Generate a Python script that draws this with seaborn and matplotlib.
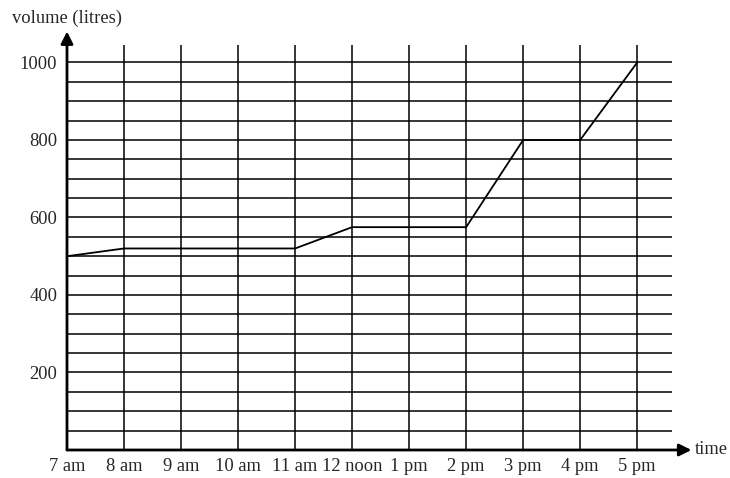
import matplotlib
matplotlib.use("Agg")
import matplotlib.pyplot as plt
import seaborn as sns
import pandas as pd
import numpy as np

hours = [0, 1, 4, 5, 7, 8, 9, 10]
volume = [500, 520, 520, 575, 575, 800, 800, 1000]
tick_labels = ["7 am", "8 am", "9 am", "10 am", "11 am", "12 noon", "1 pm",
               "2 pm", "3 pm", "4 pm", "5 pm"]
y_ticks = [200, 400, 600, 800, 1000]

sns.set_style("white")
plt.rcParams['font.family'] = ['Liberation Serif', 'DejaVu Serif']

fig = plt.figure(figsize=(7.3, 4.78), dpi=100)
ax = fig.add_axes([67/730, 28/478, 605/730, 405/478])

df = pd.DataFrame({"hour": hours, "volume": volume})

xmax = 10.61
ymax = 1045
ax.set_xlim(0, xmax)
ax.set_ylim(0, ymax)

# grid
for h in range(1, 11):
    ax.plot([h, h], [0, ymax], color="black", lw=1.1, solid_capstyle="butt", zorder=1)
for v in range(50, 1001, 50):
    ax.plot([0, xmax], [v, v], color="black", lw=1.1, solid_capstyle="butt", zorder=1)

sns.lineplot(data=df, x="hour", y="volume", ax=ax, color="black", lw=1.3, zorder=3)

for s in ax.spines.values():
    s.set_visible(False)

fs = 13.3
ax.set_xticks(range(len(tick_labels)))
ax.set_xticklabels(tick_labels, fontsize=fs)
ax.set_yticks(y_ticks)
ax.set_yticklabels([str(t) for t in y_ticks], fontsize=fs)
ax.tick_params(axis="both", length=0)
ax.tick_params(axis="x", pad=6)
ax.tick_params(axis="y", pad=7)
ax.set_xlabel("")
ax.set_ylabel("")

# axes with arrows
ax.annotate("", xy=(0, 1080), xytext=(0, 0), xycoords="data",
            arrowprops=dict(arrowstyle="-|>", color="black", lw=2,
                            mutation_scale=18, shrinkA=0, shrinkB=0),
            annotation_clip=False, zorder=5)
ax.annotate("", xy=(10.95, 0), xytext=(0, 0), xycoords="data",
            arrowprops=dict(arrowstyle="-|>", color="black", lw=2,
                            mutation_scale=18, shrinkA=0, shrinkB=0),
            annotation_clip=False, zorder=5)

fig.text(12/730, 1 - 18/478, "volume (litres)", fontsize=fs, ha="left", va="center")
fig.text(695/730, 1 - 450/478, "time", fontsize=fs, ha="left", va="center")

fig.savefig("out.png", dpi=100)
